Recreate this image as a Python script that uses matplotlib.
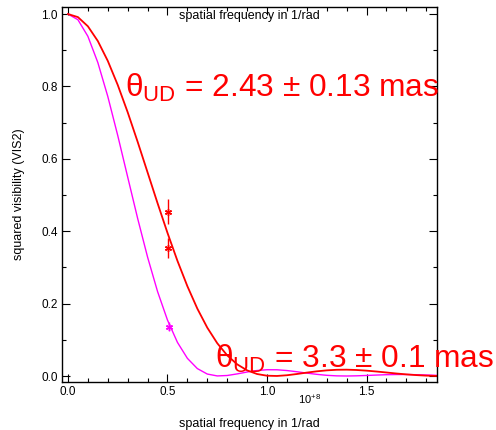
import matplotlib
matplotlib.use("Agg")
import matplotlib.pyplot as plt
from matplotlib.ticker import MultipleLocator

plt.rcParams['font.family'] = ['Liberation Sans', 'DejaVu Sans']
plt.rcParams['mathtext.fontset'] = 'custom'
plt.rcParams['mathtext.rm'] = 'Liberation Sans'
plt.rcParams['mathtext.it'] = 'Liberation Sans'

# spatial frequency in units of 1e8 / rad
freq = [0.00, 0.05, 0.10, 0.15, 0.20, 0.25, 0.30, 0.35, 0.40, 0.45,
        0.50, 0.55, 0.60, 0.65, 0.70, 0.75, 0.80, 0.85, 0.90, 0.95,
        1.00, 1.05, 1.10, 1.15, 1.20, 1.25, 1.30, 1.35, 1.40, 1.45,
        1.50, 1.55, 1.60, 1.65, 1.70, 1.75, 1.80, 1.85]

# uniform disk model, 2.43 mas (red)
vis2_red = [1.0000, 0.9915, 0.9662, 0.9254, 0.8706, 0.8041, 0.7287, 0.6471, 0.5624, 0.4776,
            0.3954, 0.3182, 0.2480, 0.1861, 0.1335, 0.0906, 0.0570, 0.0323, 0.0156, 0.0055,
            0.0008, 0.0001, 0.0021, 0.0055, 0.0094, 0.0129, 0.0156, 0.0172, 0.0175, 0.0166,
            0.0148, 0.0124, 0.0097, 0.0069, 0.0045, 0.0025, 0.0010, 0.0002]

# uniform disk model, 3.3 mas (magenta)
vis2_mag = [1.0000, 0.9843, 0.9385, 0.8660, 0.7725, 0.6646, 0.5498, 0.4355, 0.3284, 0.2335,
            0.1545, 0.0929, 0.0488, 0.0205, 0.0054, 0.0002, 0.0014, 0.0058, 0.0110, 0.0152,
            0.0173, 0.0172, 0.0151, 0.0118, 0.0080, 0.0046, 0.0019, 0.0004, 0.0000, 0.0005,
            0.0015, 0.0026, 0.0036, 0.0041, 0.0041, 0.0036, 0.0028, 0.0019]

# measured points
obs_red_f = [0.501, 0.504]
obs_red_v = [0.454, 0.353]
obs_red_e = [0.034, 0.027]
obs_mag_f = [0.508]
obs_mag_v = [0.136]
obs_mag_e = [0.012]

label_red = r"$\mathrm{θ}_{\mathrm{UD}}$ = 2.43 ± 0.13 mas"
label_mag = r"$\mathrm{θ}_{\mathrm{UD}}$ = 3.3 ± 0.1 mas"

fig = plt.figure(figsize=(4.96, 4.30), dpi=100)
ax = fig.add_axes([0.125, 0.1116, 0.756, 0.872])

ax.plot(freq, vis2_mag, color='#ff00ff', lw=1.0)
ax.plot(freq, vis2_red, color='#ff0000', lw=1.3)

ax.errorbar(obs_red_f, obs_red_v, yerr=obs_red_e, fmt='none', ecolor='#ff0000', elinewidth=1.0)
ax.plot(obs_red_f, obs_red_v, ls='none', marker=(6, 2, 0), ms=5, mec='#ff0000', mew=1.0)
ax.errorbar(obs_mag_f, obs_mag_v, yerr=obs_mag_e, fmt='none', ecolor='#ff00ff', elinewidth=1.0)
ax.plot(obs_mag_f, obs_mag_v, ls='none', marker=(6, 2, 0), ms=5, mec='#ff00ff', mew=1.0)

ax.set_xlim(-0.030, 1.854)
ax.set_ylim(-0.0166, 1.0193)

ax.xaxis.set_major_locator(MultipleLocator(0.5))
ax.xaxis.set_minor_locator(MultipleLocator(0.1))
ax.yaxis.set_major_locator(MultipleLocator(0.2))
ax.yaxis.set_minor_locator(MultipleLocator(0.1))
ax.xaxis.set_major_formatter(lambda v, p: f"{v:.1f}")
ax.yaxis.set_major_formatter(lambda v, p: f"{v:.1f}")
ax.tick_params(which='both', direction='in', top=True, right=True, labelsize=8.5, pad=3)
ax.tick_params(which='major', length=6, width=0.8)
ax.tick_params(which='minor', length=3, width=0.8)
for s in ax.spines.values():
    s.set_linewidth(1.0)

ax.set_xlabel("spatial frequency in 1/rad", fontsize=9, labelpad=14)
ax.set_ylabel("squared visibility (VIS2)", fontsize=9, labelpad=12)
ax.text(0.5, 0.992, "spatial frequency in 1/rad", transform=ax.transAxes,
        ha='center', va='top', fontsize=9)
ax.text(0.66, -0.027, r"10$^{+8}$", transform=ax.transAxes, ha='center', va='top', fontsize=8)

ax.text(0.286, 0.771, label_red, color='#ff0000', fontsize=22.8, va='baseline', ha='left')
ax.text(0.739, 0.022, label_mag, color='#ff0000', fontsize=22.8, va='baseline', ha='left',
        clip_on=False)

fig.savefig("out.png", dpi=100)
